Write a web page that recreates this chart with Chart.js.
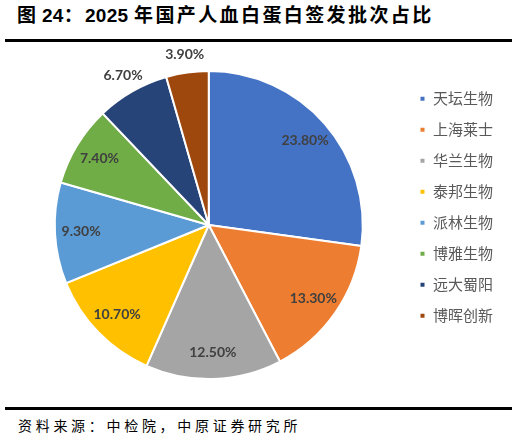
<!DOCTYPE html>
<html><head><meta charset="utf-8">
<script src="https://cdn.jsdelivr.net/npm/chart.js@4"></script>
<style>
html,body{margin:0;padding:0;background:#fff;}
body{width:518px;height:440px;position:relative;overflow:hidden;}
.t{position:absolute;top:3px;font-family:"Liberation Sans","Noto Sans CJK SC";font-weight:bold;font-size:19px;color:#000;white-space:nowrap;line-height:26px;}
.rule{position:absolute;left:5px;width:507px;height:3px;background:#000;}
#source{position:absolute;left:18px;top:415px;font-family:"Noto Sans CJK SC";font-size:14px;letter-spacing:3.7px;color:#000;white-space:nowrap;line-height:20px;}
#wrap{position:absolute;left:0;top:0;width:518px;height:440px;}
</style></head>
<body>
<div class="t" style="left:17px">图</div>
<div class="t" style="left:42px;letter-spacing:0.3px">24：</div>
<div class="t" style="left:85px;letter-spacing:0.3px">2025</div>
<div class="t" style="left:134px;letter-spacing:2.4px">年国产人血白蛋白签发批次占比</div>
<div class="rule" style="top:39px"></div>
<div class="rule" style="top:407px"></div>
<div id="source">资料来源：中检院，中原证券研究所</div>
<div id="wrap"><canvas id="c"></canvas></div>
<script>
const categories = ["天坛生物","上海莱士","华兰生物","泰邦生物","派林生物","博雅生物","远大蜀阳","博晖创新"];
const shares = [23.80, 13.30, 12.50, 10.70, 9.30, 7.40, 6.70, 3.90];
const colors = ["#4472C4","#ED7D31","#A5A5A5","#FFC000","#5B9BD5","#70AD47","#264478","#9E480E"];

const labelPlugin = {
  id: 'sliceLabels',
  afterDatasetsDraw(chart) {
    const ctx = chart.ctx;
    const meta = chart.getDatasetMeta(0);
    const total = shares.reduce((a, b) => a + b, 0);
    ctx.save();
    ctx.font = 'bold 14px Lato';
    ctx.fillStyle = '#404040';
    ctx.textAlign = 'center';
    ctx.textBaseline = 'middle';
    meta.data.forEach((arc, i) => {
      const p = arc.getProps(['x','y','startAngle','endAngle','outerRadius']);
      const mid = (p.startAngle + p.endAngle) / 2;
      const f = shares[i] / total < 0.08 ? 1.12 : 0.83;
      const x = p.x + Math.cos(mid) * p.outerRadius * f;
      const y = p.y + Math.sin(mid) * p.outerRadius * f;
      ctx.fillText(shares[i].toFixed(2) + '%', x, y);
    });
    ctx.restore();
  }
};

new Chart(document.getElementById('c'), {
  type: 'pie',
  data: {
    labels: categories,
    datasets: [{
      data: shares,
      backgroundColor: colors,
      borderColor: '#ffffff',
      borderWidth: 2
    }]
  },
  options: {
    responsive: true,
    maintainAspectRatio: false,
    animation: false,
    layout: { padding: { top: 70, bottom: 60, left: 14, right: 15 } },
    plugins: {
      tooltip: { enabled: false },
      legend: {
        position: 'right',
        align: 'start',
        title: { display: true, text: ' ', font: { size: 1 }, padding: { top: 4, bottom: 0 } },
        labels: {
          boxWidth: 6,
          boxHeight: 6,
          padding: 16,
          color: '#595959',
          font: { family: 'Noto Sans CJK SC', size: 15 }
        }
      }
    }
  },
  plugins: [labelPlugin]
});
</script>
</body></html>
